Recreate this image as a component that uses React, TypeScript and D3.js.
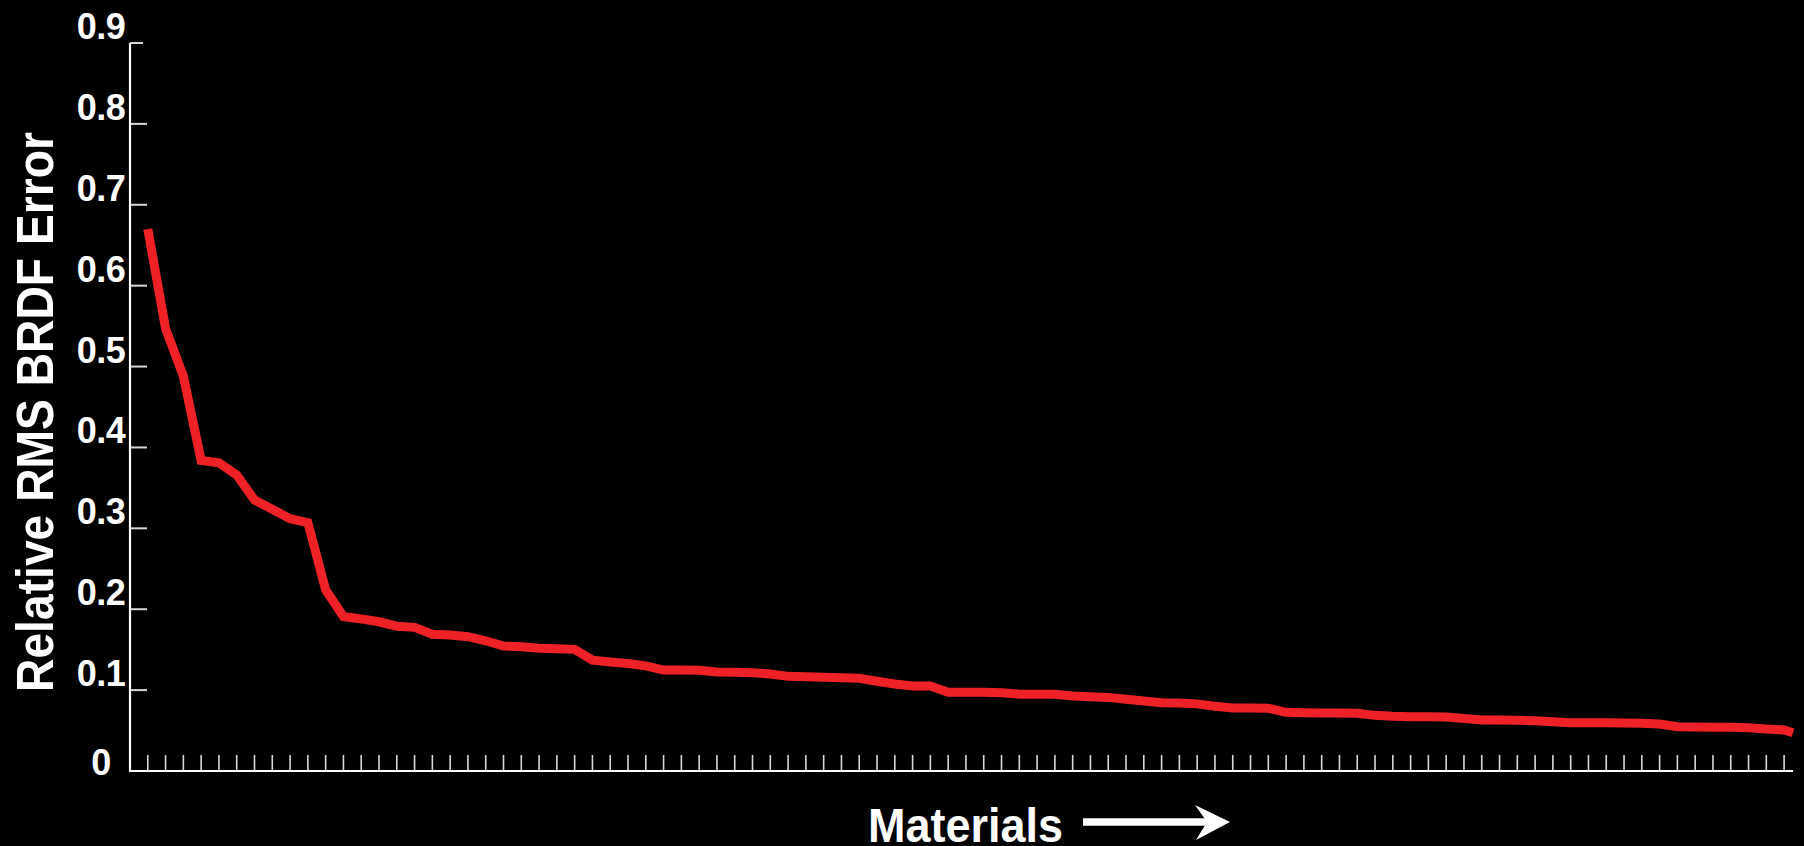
import React from "react";
import * as d3 from "d3";

// Relative RMS BRDF error per material (sorted), material index 1..93, plus the last sample at the axis end
const errors: number[] = [
  0.670, 0.547, 0.488, 0.384, 0.381, 0.366, 0.335, 0.3235, 0.312, 0.307,
  0.224, 0.191, 0.188, 0.1845, 0.179, 0.1776, 0.169, 0.168, 0.166, 0.161,
  0.1545, 0.1537, 0.1517, 0.1512, 0.1504, 0.137, 0.1347, 0.133, 0.130, 0.1248,
  0.1248, 0.1245, 0.1224, 0.122, 0.1215, 0.120, 0.117, 0.1166, 0.116, 0.1153,
  0.1146, 0.111, 0.1075, 0.105, 0.105, 0.0973, 0.0973, 0.0973, 0.0968, 0.095,
  0.095, 0.095, 0.0927, 0.0918, 0.091, 0.0886, 0.0865, 0.0845, 0.084, 0.083,
  0.080, 0.078, 0.078, 0.0775, 0.0726, 0.072, 0.0717, 0.0717, 0.0713, 0.0688,
  0.0676, 0.0671, 0.0671, 0.0667, 0.065, 0.063, 0.063, 0.0627, 0.062, 0.061,
  0.0597, 0.0597, 0.0595, 0.0593, 0.059, 0.058, 0.0548, 0.0544, 0.054, 0.054,
  0.0535, 0.052, 0.0507,
];
const lastError = 0.0473;
const materialCount = 93;
const xMax = 93.5;
const yTicks: number[] = [0, 0.1, 0.2, 0.3, 0.4, 0.5, 0.6, 0.7, 0.8, 0.9];
const yTickLabels: string[] = ["0", "0.1", "0.2", "0.3", "0.4", "0.5", "0.6", "0.7", "0.8", "0.9"];
const yTitle = "Relative RMS BRDF Error";
const xTitle = "Materials";

const W = 1804;
const H = 846;
const FONT = "'Liberation Sans', Arial, Helvetica, sans-serif";

export default function App() {
  const x = d3.scaleLinear().domain([0, xMax]).range([130, 1793]);
  const y = d3.scaleLinear().domain([0, 0.9]).range([771, 43]);

  const pts: [number, number][] = errors.map((v, i) => [i + 1, v]);
  pts.push([xMax, lastError]);
  const line = d3
    .line<[number, number]>()
    .x((d) => x(d[0]))
    .y((d) => y(d[1]));

  const xTickIdx = d3.range(1, materialCount + 1);

  return (
    <svg
      width={W}
      height={H}
      style={{ position: "absolute", left: 0, top: 0, background: "#000", display: "block" }}
    >
      <rect x={0} y={0} width={W} height={H} fill="#000" />
      {/* y ticks */}
      {yTicks.map((t, i) => (
        <line
          key={"yt" + i}
          x1={x(0)}
          x2={x(0) + (t === 0.9 ? 13 : 17)}
          y1={y(t)}
          y2={y(t)}
          stroke="#d8d8d8"
          strokeWidth={2}
        />
      ))}
      {/* x ticks */}
      {xTickIdx.map((k) => (
        <line
          key={"xt" + k}
          x1={x(k)}
          x2={x(k)}
          y1={y(0)}
          y2={y(0) - 16}
          stroke="#d8d8d8"
          strokeWidth={1.6}
        />
      ))}
      {/* axes */}
      <line x1={x(0)} x2={x(0)} y1={y(0.9)} y2={y(0) + 1} stroke="#fff" strokeWidth={2.2} />
      <line x1={x(0) - 1} x2={x(xMax)} y1={y(0)} y2={y(0)} stroke="#fff" strokeWidth={2.2} />
      {/* y tick labels */}
      {yTicks.map((t, i) => (
        <text
          key={"yl" + i}
          x={101}
          y={t === 0 ? y(t) + 4 : y(t) - 4}
          textAnchor="middle"
          fill="#fff"
          fontFamily={FONT}
          fontWeight="bold"
          fontSize={36}
          letterSpacing={-0.5}
        >
          {yTickLabels[i]}
        </text>
      ))}
      {/* y title */}
      <text
        transform="translate(53,412) rotate(-90)"
        textAnchor="middle"
        fill="#fff"
        fontFamily={FONT}
        fontWeight="bold"
        fontSize={52}
        textLength={560}
        lengthAdjust="spacingAndGlyphs"
      >
        {yTitle}
      </text>
      {/* data line */}
      <path
        d={line(pts) || ""}
        fill="none"
        stroke="#ee2226"
        strokeWidth={9}
        strokeLinejoin="miter"
        strokeLinecap="butt"
      />
      {/* x title with arrow */}
      <text
        x={868}
        y={842}
        fill="#fff"
        fontFamily={FONT}
        fontWeight="bold"
        fontSize={48}
        textLength={195}
        lengthAdjust="spacingAndGlyphs"
      >
        {xTitle}
      </text>
      <line x1={1083} x2={1208} y1={822} y2={822} stroke="#fff" strokeWidth={7.5} />
      <path d="M1230,822 L1195,805 L1207,822 L1196,840 Z" fill="#fff" />
    </svg>
  );
}
